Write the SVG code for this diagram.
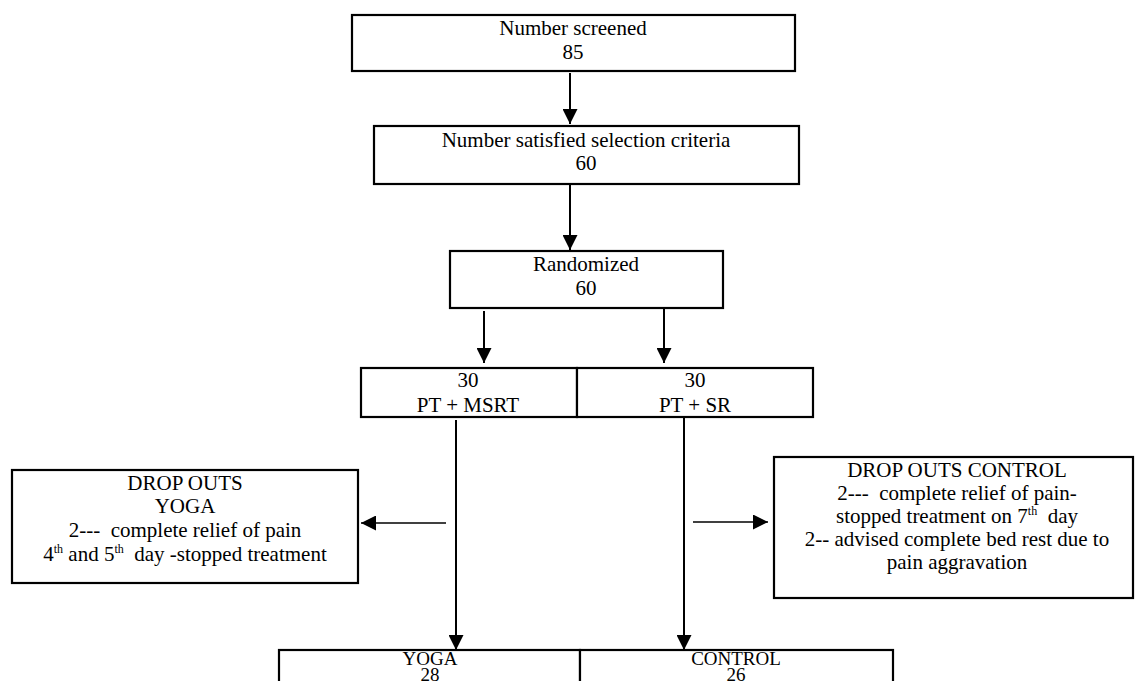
<svg xmlns="http://www.w3.org/2000/svg" width="1136" height="681" viewBox="0 0 1136 681">
<style>
  .box { fill: #fff; stroke: #000; stroke-width: 2.2; }
  .t { font-family: "Liberation Serif", "Times New Roman", serif; font-size: 21px; fill: #000; text-anchor: middle; white-space: pre; }
  .b { font-size: 19px; }
  .sup { font-size: 12px; }
  .ln { stroke: #000; stroke-width: 2; fill: none; }
  .thin { stroke: #000; stroke-width: 1.6; fill: none; }
</style>
<defs>
  <marker id="ah" viewBox="0 0 10 10" refX="10" refY="5" markerWidth="15" markerHeight="15" markerUnits="userSpaceOnUse" orient="auto">
    <path d="M0,0 L10,5 L0,10 Z" fill="#000"/>
  </marker>
</defs>
<rect width="1136" height="681" fill="#fff"/>

<g id="connectors">
  <line class="ln" x1="570" y1="73" x2="570" y2="124" marker-end="url(#ah)"/>
  <line class="ln" x1="570" y1="185" x2="570" y2="250" marker-end="url(#ah)"/>
  <line class="ln" x1="484" y1="311" x2="484" y2="363" marker-end="url(#ah)"/>
  <line class="ln" x1="664" y1="309" x2="664" y2="363" marker-end="url(#ah)"/>
  <line class="ln" x1="456" y1="420" x2="456" y2="650" marker-end="url(#ah)"/>
  <line class="ln" x1="684" y1="418" x2="684" y2="650" marker-end="url(#ah)"/>
  <line class="thin" x1="446" y1="523" x2="361" y2="523" marker-end="url(#ah)"/>
  <line class="thin" x1="693" y1="522" x2="768" y2="522" marker-end="url(#ah)"/>
</g>

<g id="screened">
  <rect class="box" x="352" y="15" width="443" height="56"/>
  <text class="t" x="573" y="35">Number screened</text>
  <text class="t" x="573" y="59">85</text>
</g>

<g id="satisfied">
  <rect class="box" x="374" y="126" width="425" height="58"/>
  <text class="t" x="586" y="147">Number satisfied selection criteria</text>
  <text class="t" x="586" y="170">60</text>
</g>

<g id="randomized">
  <rect class="box" x="450" y="251" width="273" height="57"/>
  <text class="t" x="586" y="271">Randomized</text>
  <text class="t" x="586" y="295">60</text>
</g>

<g id="pt-msrt">
  <rect class="box" x="361" y="368" width="216" height="49"/>
  <text class="t" x="468" y="387">30</text>
  <text class="t" x="468" y="412">PT + MSRT</text>
</g>

<g id="pt-sr">
  <rect class="box" x="577" y="368" width="236" height="49"/>
  <text class="t" x="695" y="387">30</text>
  <text class="t" x="695" y="412">PT + SR</text>
</g>

<g id="dropouts-yoga">
  <rect class="box" x="12" y="470" width="346" height="113"/>
  <text class="t" x="185" y="490">DROP OUTS</text>
  <text class="t" x="185" y="513">YOGA</text>
  <text class="t" x="185" y="537">2---  complete relief of pain</text>
  <text class="t" x="185" y="561">4<tspan class="sup" dy="-8">th</tspan><tspan dy="8"> and 5</tspan><tspan class="sup" dy="-8">th</tspan><tspan dy="8">  day -stopped treatment</tspan></text>
</g>

<g id="dropouts-control">
  <rect class="box" x="774" y="457" width="359" height="141"/>
  <text class="t" x="957" y="477">DROP OUTS CONTROL</text>
  <text class="t" x="957" y="500">2---  complete relief of pain-</text>
  <text class="t" x="957" y="523">stopped treatment on 7<tspan class="sup" dy="-8">th</tspan><tspan dy="8">  day</tspan></text>
  <text class="t" x="957" y="546">2-- advised complete bed rest due to</text>
  <text class="t" x="957" y="569">pain aggravation</text>
</g>

<g id="yoga">
  <rect class="box" x="279" y="650" width="301" height="60"/>
  <text class="t b" x="430" y="665">YOGA</text>
  <text class="t b" x="430" y="681">28</text>
</g>

<g id="control">
  <rect class="box" x="580" y="650" width="313" height="60"/>
  <text class="t b" x="736" y="665">CONTROL</text>
  <text class="t b" x="736" y="681">26</text>
</g>
</svg>
